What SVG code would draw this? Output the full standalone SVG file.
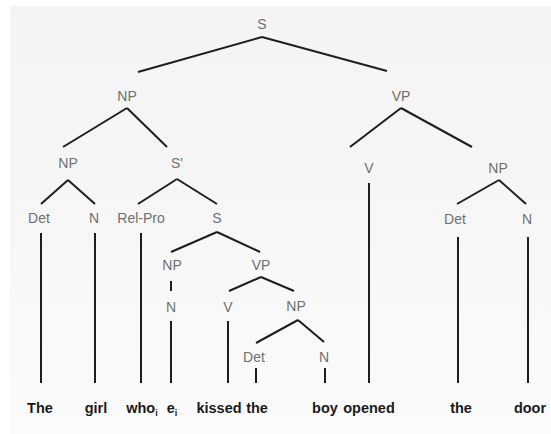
<svg xmlns="http://www.w3.org/2000/svg" width="551" height="434" viewBox="0 0 551 434">
<defs>
<linearGradient id="bg" x1="0" y1="0" x2="0" y2="1">
<stop offset="0" stop-color="#f4f4f4"/>
<stop offset="0.45" stop-color="#f6f6f6"/>
<stop offset="1" stop-color="#fbfbfb"/>
</linearGradient>
<style>
.lbl{font-family:"Liberation Sans",Arial,sans-serif;font-size:14px;fill:#707070;text-anchor:middle}
.w{font-family:"Liberation Sans",Arial,sans-serif;font-size:14.5px;font-weight:bold;fill:#1a1a1a;text-anchor:middle}
.sub{font-size:9px}
#edges line{stroke:#1e1e1e;stroke-width:2;stroke-linecap:butt}
</style>
</defs>
<rect width="551" height="434" fill="#ffffff"/>
<rect x="10" y="6" width="541" height="428" fill="url(#bg)"/>
<g id="edges">
<line x1="262" y1="37" x2="138" y2="72"/>
<line x1="262" y1="37" x2="387" y2="71"/>
<line x1="127" y1="108" x2="63" y2="147"/>
<line x1="127" y1="108" x2="167" y2="147"/>
<line x1="401" y1="108" x2="350" y2="147"/>
<line x1="401" y1="108" x2="472" y2="147"/>
<line x1="68" y1="180" x2="41" y2="204"/>
<line x1="68" y1="180" x2="95" y2="204"/>
<line x1="177" y1="179" x2="138" y2="204"/>
<line x1="177" y1="179" x2="217" y2="204"/>
<line x1="369" y1="183" x2="369" y2="383"/>
<line x1="499" y1="180" x2="457" y2="204"/>
<line x1="499" y1="180" x2="526" y2="204"/>
<line x1="41" y1="233" x2="41" y2="383"/>
<line x1="95" y1="233" x2="95" y2="383"/>
<line x1="141" y1="233" x2="141" y2="383"/>
<line x1="458" y1="237" x2="458" y2="383"/>
<line x1="528" y1="237" x2="528" y2="383"/>
<line x1="217" y1="232" x2="171" y2="252"/>
<line x1="217" y1="232" x2="260" y2="252"/>
<line x1="171" y1="281" x2="171" y2="291"/>
<line x1="261" y1="277" x2="229" y2="291"/>
<line x1="261" y1="277" x2="294" y2="291"/>
<line x1="171" y1="321" x2="171" y2="383"/>
<line x1="228" y1="321" x2="228" y2="383"/>
<line x1="298" y1="320" x2="256" y2="343"/>
<line x1="298" y1="320" x2="324" y2="342"/>
<line x1="256" y1="368" x2="256" y2="383"/>
<line x1="325" y1="368" x2="325" y2="383"/>
</g>
<g id="n-S"><text class="lbl" x="262" y="29">S</text></g>
<g id="n-NP1"><text class="lbl" x="127" y="101">NP</text></g>
<g id="n-VP1"><text class="lbl" x="401" y="101">VP</text></g>
<g id="n-NP2"><text class="lbl" x="68" y="168">NP</text></g>
<g id="n-Sbar"><text class="lbl" x="177" y="168">S'</text></g>
<g id="n-V1"><text class="lbl" x="369" y="173">V</text></g>
<g id="n-NP3"><text class="lbl" x="498" y="173">NP</text></g>
<g id="n-Det1"><text class="lbl" x="39" y="223">Det</text></g>
<g id="n-N1"><text class="lbl" x="94" y="223">N</text></g>
<g id="n-RelPro"><text class="lbl" x="141" y="223">Rel-Pro</text></g>
<g id="n-S2"><text class="lbl" x="217" y="223">S</text></g>
<g id="n-Det2"><text class="lbl" x="455" y="224">Det</text></g>
<g id="n-N2"><text class="lbl" x="527" y="224">N</text></g>
<g id="n-NP4"><text class="lbl" x="172" y="270">NP</text></g>
<g id="n-VP2"><text class="lbl" x="261" y="270">VP</text></g>
<g id="n-N3"><text class="lbl" x="171" y="312">N</text></g>
<g id="n-V2"><text class="lbl" x="228" y="312">V</text></g>
<g id="n-NP5"><text class="lbl" x="296" y="311">NP</text></g>
<g id="n-Det3"><text class="lbl" x="254" y="362">Det</text></g>
<g id="n-N4"><text class="lbl" x="324" y="362">N</text></g>
<g id="words">
<text class="w" x="40" y="413">The</text>
<text class="w" x="96" y="413">girl</text>
<text class="w" x="142" y="413">who<tspan class="sub" dy="3">i</tspan></text>
<text class="w" x="172" y="413">e<tspan class="sub" dy="3">i</tspan></text>
<text class="w" x="219" y="413">kissed</text>
<text class="w" x="257" y="413">the</text>
<text class="w" x="325" y="413">boy</text>
<text class="w" x="369" y="413">opened</text>
<text class="w" x="461" y="413">the</text>
<text class="w" x="530" y="413">door</text>
</g>
</svg>
